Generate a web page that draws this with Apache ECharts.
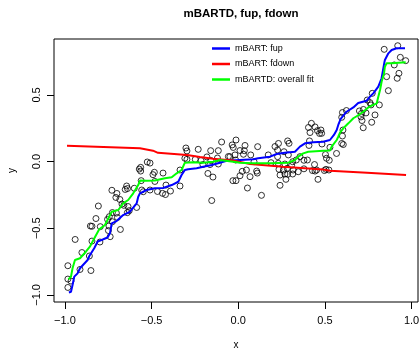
<!DOCTYPE html>
<html><head><meta charset="utf-8">
<script src="https://cdn.jsdelivr.net/npm/echarts@6/dist/echarts.min.js"></script>
<style>html,body{margin:0;padding:0;background:#fff}#c{width:419px;height:352px}</style>
</head><body><div id="c"></div>
<script>
const xTicks = [-1.0, -0.5, 0.0, 0.5, 1.0];
const yTicks = [-1.0, -0.5, 0.0, 0.5];

const pointsX = [-0.983,-0.965,-0.983,-0.983,-0.913,-0.850,-0.941,-0.902,-0.859,-0.844,-0.798,-0.853,-0.844,-0.796,-0.821,-0.807,
-0.744,-0.754,-0.746,-0.749,-0.739,-0.726,-0.680,-0.726,-0.703,-0.697,-0.729,-0.700,-0.706,-0.683,-0.671,-0.660,-0.636,-0.644,-0.639,-0.652,-0.629,-0.640,-0.600,-0.586,
-0.560,-0.571,-0.563,-0.563,-0.525,-0.509,-0.484,-0.492,-0.434,-0.481,-0.557,-0.548,-0.509,-0.466,-0.437,-0.420,-0.417,-0.391,-0.336,-0.336,
-0.302,-0.296,-0.231,-0.159,-0.115,-0.096,-0.013,-0.035,-0.029,0.010,0.039,0.035,0.030,-0.308,-0.296,-0.248,-0.215,-0.181,-0.158,-0.120,-0.057,-0.048,-0.019,-0.015,
-0.175,-0.146,-0.153,-0.204,-0.163,-0.115,-0.031,-0.013,0.010,0.023,0.047,0.053,0.068,0.091,0.072,0.106,0.110,0.112,0.134,
0.173,0.189,0.212,0.232,0.285,0.293,0.227,0.264,0.227,0.289,0.231,0.269,0.283,0.314,0.308,0.335,0.356,0.379,0.399,0.235,0.260,0.269,0.285,0.241,0.314,0.317,0.346,0.379,0.428,0.443,0.452,0.440,0.497,0.506,0.523,0.275,0.241,0.460,
0.411,0.408,0.483,0.503,0.509,0.525,0.567,0.529,0.422,0.405,0.443,0.414,0.457,0.469,0.477,0.481,
0.597,0.604,0.601,0.597,0.606,0.624,0.601,0.699,0.711,0.722,0.737,0.708,0.714,0.721,0.744,0.760,0.766,0.773,0.789,0.770,0.814,
0.842,0.856,0.866,0.900,0.920,0.935,0.966,0.927,0.917];
const pointsY = [-0.944,-0.896,-0.881,-0.781,-0.809,-0.817,-0.584,-0.682,-0.708,-0.596,-0.603,-0.483,-0.485,-0.488,-0.427,-0.333,
-0.413,-0.433,-0.483,-0.517,-0.563,-0.451,-0.509,-0.382,-0.386,-0.419,-0.215,-0.239,-0.269,-0.284,-0.318,-0.328,-0.337,-0.183,-0.202,-0.209,-0.368,-0.383,-0.200,-0.344,
-0.143,-0.056,-0.043,-0.071,-0.003,-0.011,-0.080,-0.098,-0.086,-0.149,-0.213,-0.226,-0.213,-0.224,-0.238,-0.247,-0.176,-0.221,-0.183,-0.063,
0.102,0.080,0.092,0.082,0.082,0.147,0.162,0.125,0.106,0.083,0.121,0.082,0.055,0.025,0.017,0.017,0.008,0.035,0.008,0.027,0.038,0.037,0.050,0.012,
-0.089,-0.116,-0.292,-0.022,-0.022,-0.018,-0.143,-0.143,-0.106,-0.073,-0.063,-0.198,-0.113,-0.001,0.050,-0.071,-0.086,0.112,-0.253,
0.050,-0.008,0.113,0.136,0.155,0.137,0.087,0.074,0.037,0.050,-0.013,-0.018,-0.050,-0.001,-0.028,0.012,0.037,0.010,0.012,-0.058,-0.063,-0.093,-0.095,-0.101,-0.093,-0.063,-0.076,-0.054,-0.067,-0.071,-0.063,-0.022,-0.067,-0.058,-0.063,-0.133,-0.178,-0.133,
0.155,0.121,0.132,0.053,0.025,0.010,0.061,0.107,0.287,0.256,0.260,0.218,0.232,0.211,0.237,0.212,
0.332,0.237,0.192,0.136,0.128,0.383,0.368,0.380,0.361,0.391,0.365,0.335,0.308,0.254,0.462,0.442,0.425,0.512,0.350,0.295,0.425,
0.842,0.637,0.532,0.725,0.869,0.782,0.757,0.662,0.625];

const fupX = [-0.977,-0.965,-0.956,-0.946,-0.927,-0.913,-0.869,-0.859,-0.831,-0.811,-0.782,-0.754,-0.740,-0.730,-0.702,-0.664,-0.625,-0.586,-0.577,-0.567,-0.529,-0.481,-0.433,-0.384,-0.346,-0.327,-0.308,-0.289,-0.240,-0.202,-0.153,-0.106,-0.067,0.010,0.087,0.115,0.183,0.222,0.269,0.327,0.356,0.385,0.433,0.490,0.529,0.552,0.568,0.577,0.591,0.625,0.664,0.692,0.741,0.760,0.779,0.808,0.827,0.842,0.846,0.866,0.885,0.914,0.962];
const fupY = [-0.982,-0.976,-0.926,-0.863,-0.838,-0.800,-0.738,-0.708,-0.650,-0.599,-0.584,-0.569,-0.536,-0.463,-0.446,-0.401,-0.376,-0.313,-0.263,-0.238,-0.213,-0.200,-0.198,-0.176,-0.151,-0.101,-0.063,-0.058,-0.050,-0.038,-0.026,-0.008,0.007,0.012,0.017,0.025,0.037,0.057,0.067,0.074,0.112,0.137,0.145,0.149,0.162,0.200,0.237,0.275,0.320,0.374,0.406,0.440,0.457,0.487,0.512,0.562,0.625,0.737,0.762,0.812,0.837,0.850,0.850];

const fdownX = [-0.988,-0.567,-0.492,-0.463,-0.296,-0.221,-0.146,-0.031,0.068,0.258,0.489,0.529,0.743,0.968];
const fdownY = [0.119,0.100,0.082,0.066,0.050,0.035,0.022,0.008,-0.018,-0.038,-0.059,-0.068,-0.083,-0.101];

const fitX = [-0.980,-0.965,-0.956,-0.942,-0.913,-0.879,-0.856,-0.831,-0.802,-0.769,-0.730,-0.692,-0.664,-0.635,-0.606,-0.577,-0.567,-0.529,-0.481,-0.423,-0.384,-0.355,-0.327,-0.308,-0.260,-0.202,-0.144,-0.106,-0.029,0.010,0.077,0.183,0.289,0.327,0.346,0.375,0.404,0.490,0.529,0.539,0.548,0.568,0.577,0.587,0.606,0.635,0.664,0.683,0.721,0.750,0.779,0.799,0.808,0.818,0.827,0.841,0.846,0.856,0.885,0.966];
const fitY = [-0.883,-0.863,-0.800,-0.738,-0.725,-0.676,-0.638,-0.577,-0.508,-0.476,-0.376,-0.363,-0.313,-0.288,-0.238,-0.176,-0.142,-0.143,-0.142,-0.125,-0.118,-0.088,-0.063,-0.008,-0.005,-0.008,-0.001,0.012,-0.001,-0.008,-0.013,-0.013,-0.008,0.012,0.037,0.062,0.074,0.082,0.083,0.112,0.125,0.162,0.187,0.218,0.250,0.287,0.325,0.340,0.374,0.406,0.425,0.437,0.487,0.537,0.599,0.662,0.712,0.737,0.737,0.745];

const seriesNames = ['mBART: fup', 'mBART: fdown', 'mBARTD: overall fit'];
const seriesColors = ['#0000ff', '#ff0000', '#00ff00'];

const zip = (a, b) => a.map((v, i) => [v, b[i]]);
const FONT = '"Liberation Sans", Arial, Helvetica, sans-serif';
const fmt = v => (v < 0 ? '\u2212' : '') + Math.abs(v).toFixed(1);

const chart = echarts.init(document.getElementById('c'), null, {renderer: 'canvas'});
const lineData = [zip(fupX, fupY), zip(fdownX, fdownY), zip(fitX, fitY)];

chart.setOption({
  animation: false,
  backgroundColor: '#fff',
  title: {
    text: 'mBARTD, fup, fdown', left: 236, top: 3, textAlign: 'center',
    textStyle: {fontFamily: FONT, fontSize: 11.5, fontWeight: 'bold', color: '#000'}
  },
  grid: {left: 54, right: 1, top: 39, bottom: 50, show: true, borderColor: '#000', borderWidth: 1,
         backgroundColor: 'transparent', containLabel: false, outerBoundsMode: 'none'},
  legend: {
    orient: 'vertical', left: 212, top: 44, padding: 0, itemWidth: 18, itemHeight: 2.5, itemGap: 6.5,
    icon: 'rect',
    data: seriesNames,
    textStyle: {fontFamily: FONT, fontSize: 9, color: '#000'}
  },
  xAxis: {
    type: 'value', min: -1.063, max: 1.037,
    name: 'x', nameLocation: 'middle', nameGap: 38,
    nameTextStyle: {fontFamily: FONT, fontSize: 10, color: '#000'},
    axisLine: {show: false, onZero: false},
    axisTick: {show: true, length: 7, customValues: xTicks, lineStyle: {color: '#000', width: 1}},
    axisLabel: {customValues: xTicks, formatter: fmt, margin: 13, fontFamily: FONT, fontSize: 11, color: '#000'},
    splitLine: {show: false}
  },
  yAxis: {
    type: 'value', min: -1.053, max: 0.9195,
    name: 'y', nameLocation: 'middle', nameGap: 37,
    nameTextStyle: {fontFamily: FONT, fontSize: 10, color: '#000'},
    axisLine: {show: false, onZero: false},
    axisTick: {show: true, length: 7, customValues: yTicks, lineStyle: {color: '#000', width: 1}},
    axisLabel: {customValues: yTicks, formatter: fmt, margin: 12, rotate: 90, fontFamily: FONT, fontSize: 11, color: '#000'},
    splitLine: {show: false}
  },
  series: [
    {
      type: 'scatter', name: 'data', data: zip(pointsX, pointsY), symbol: 'circle', symbolSize: 6,
      itemStyle: {color: 'rgba(0,0,0,0)', borderColor: '#000', borderWidth: 1}, silent: true
    }
  ].concat(seriesNames.map((n, i) => ({
    type: 'line', name: n, data: lineData[i], showSymbol: false, symbol: 'none',
    lineStyle: {color: seriesColors[i], width: 2}, itemStyle: {color: seriesColors[i]}, silent: true
  })))
});
</script>
</body></html>
